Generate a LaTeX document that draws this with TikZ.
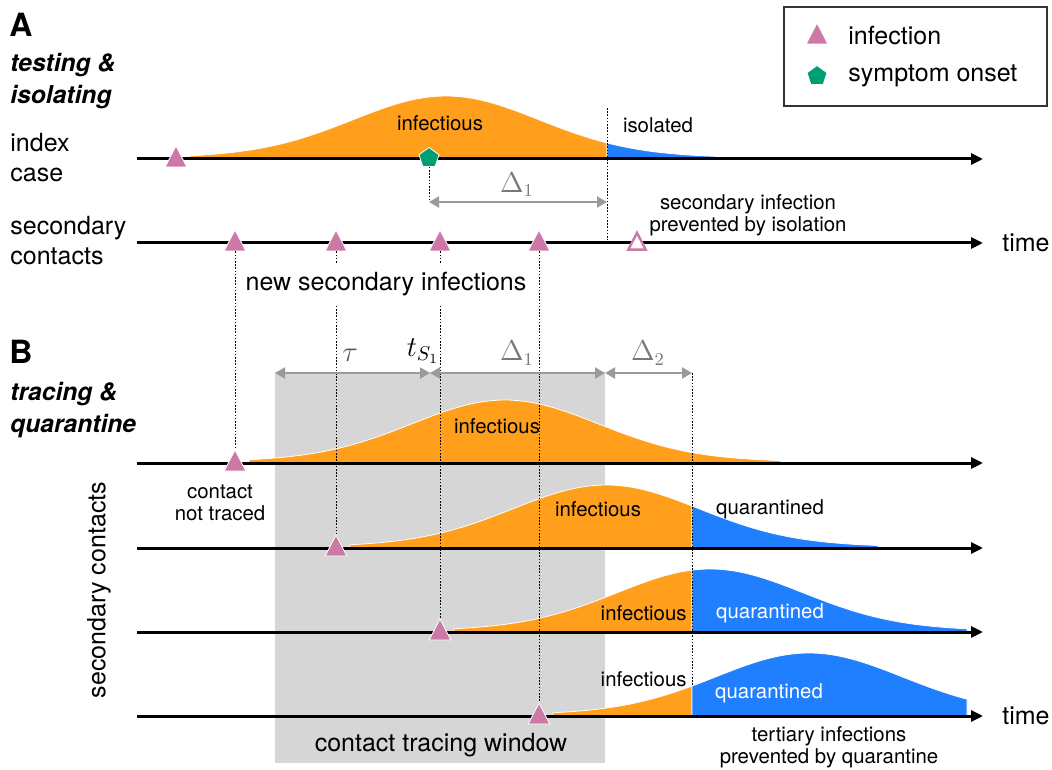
\documentclass[tikz,border=0pt]{standalone}
\usepackage{fontspec}
\setmainfont{TeX Gyre Heros}
\usetikzlibrary{arrows.meta,shapes.geometric}
\definecolor{infcol}{HTML}{CC79A7}
\definecolor{symcol}{HTML}{009E73}
\definecolor{infect}{HTML}{FF9F1C}
\definecolor{quar}{HTML}{1F7FFF}
\definecolor{wingray}{HTML}{D6D6D6}
\definecolor{dimgray}{HTML}{9A9A9A}
\definecolor{mathgray}{HTML}{777777}
\definecolor{legline}{HTML}{333333}
\newcommand{\bigsize}{\fontsize{12.5}{15}\selectfont}
\newcommand{\smallsize}{\fontsize{10.2}{10.8}\selectfont}
\newcommand{\bump}[5]{\filldraw[#5] (#3,#2) -- plot[domain=#3:#4,samples=60] (\x,{#2-prof(\x-#1)}) -- (#4,#2) -- cycle;}
\tikzset{declare function={prof(\u)=63*(0.92*exp(-0.5*((\u-270)/92)^2)+0.08*exp(-0.5*((\u-270)/190)^2));},
inf/.style={regular polygon,regular polygon sides=3,fill=infcol,draw=white,line width=0.4pt,inner sep=0pt,minimum size=12.5pt,yscale=1.12},
infopen/.style={inf,fill=white,draw=infcol,line width=1.2pt,minimum size=10pt},
sym/.style={regular polygon,regular polygon sides=5,fill=symcol,draw=white,line width=0.4pt,inner sep=0pt,minimum size=10.5pt},
axis/.style={line width=1.5pt,-{Triangle[length=6pt,width=5.5pt]}},
dim/.style={line width=1pt,draw=dimgray,{Triangle[length=5pt,width=5.5pt]}-{Triangle[length=5pt,width=5.5pt]}},
guide/.style={line width=0.5pt,dash pattern=on 0.8pt off 0.8pt},
lbl/.style={font=\bigsize,inner sep=0pt,align=left},
sm/.style={font=\smallsize,inner sep=0pt,align=center},
sym math/.style={font=\fontsize{13.5}{15}\selectfont,text=mathgray,inner sep=0pt},
panel/.style={font=\fontsize{16}{18}\selectfont\bfseries,inner sep=0pt},
mode/.style={font=\fontsize{12.3}{16.2}\selectfont\bfseries\itshape,inner sep=0pt,align=left},
infbump/.style={fill=infect,draw=white,line width=0.4pt},
qbump/.style={fill=quar,draw=white,line width=0.4pt},
winbox/.style={fill=wingray,inner sep=0pt}}
\begin{document}
\begin{tikzpicture}[x=0.5pt,y=-0.5pt]
\useasboundingbox (0,0) rectangle (1052,769);
\node[winbox,minimum width=165pt,minimum height=195.5pt] (win) at (440,567.5) {};
\bump{176}{159}{190}{607}{infbump}
\bump{176}{159}{607}{723}{qbump}
\bump{235}{463}{249}{780}{infbump}
\bump{336}{548}{350}{692}{infbump}
\bump{336}{548}{692}{878}{qbump}
\bump{440}{632}{454}{692}{infbump}
\bump{440}{632}{692}{967}{qbump}
\bump{539}{716}{553}{692}{infbump}
\bump{539}{716}{692}{967}{qbump}
\coordinate (ia0) at (137,159); \coordinate (ia1) at (983,159);
\coordinate (sa0) at (137,243); \coordinate (sa1) at (983,243);
\coordinate (r1a) at (137,463); \coordinate (r1b) at (983,463);
\coordinate (r2a) at (137,548); \coordinate (r2b) at (983,548);
\coordinate (r3a) at (137,632); \coordinate (r3b) at (983,632);
\coordinate (r4a) at (137,716); \coordinate (r4b) at (983,716);
\draw[axis] (ia0)--(ia1);
\draw[axis] (sa0)--(sa1);
\draw[axis] (r1a)--(r1b);
\draw[axis] (r2a)--(r2b);
\draw[axis] (r3a)--(r3b);
\draw[axis] (r4a)--(r4b);
\coordinate (isotop) at (607,108); \coordinate (isobot) at (607,240);
\coordinate (d1a) at (429,202); \coordinate (d1b) at (607,202);
\coordinate (tw0) at (275,373); \coordinate (ts) at (430,373);
\coordinate (td1) at (605,373); \coordinate (td2) at (692,373);
\coordinate (q4top) at (692,686);
\node[inf] (idx) at (176,160) {};
\node[sym] (onset) at (429,158) {};
\node[inf] (s1) at (235,244) {};
\node[inf] (s2) at (336,244) {};
\node[inf] (s3) at (440,244) {};
\node[inf] (s4) at (539,244) {};
\node[infopen] (sx) at (637,244) {};
\node[inf] (b1) at (235,464) {};
\node[inf] (b2) at (336,549) {};
\node[inf] (b3) at (440,633) {};
\node[inf] (b4) at (539,717) {};
\draw[guide] (isotop)--(isobot);
\draw[guide] (onset.south)--(d1a);
\draw[guide] (s1.south)--(b1.north);
\draw[guide] (s2.south)--(b2.north);
\draw[guide] (s3.south)--(b3.north);
\draw[guide] (s4.south)--(b4.north);
\draw[guide] (td2)--(q4top);
\draw[dim] (d1a)--(d1b);
\draw[dim] (tw0)--(ts);
\draw[dim] (ts)--(td1);
\draw[dim] (td1)--(td2);
\node[draw=legline,line width=0.75pt,minimum width=131.5pt,minimum height=49.5pt,inner sep=0pt] (legend) at (915.5,56.5) {};
\node[inf] (leginf) at (817,37) {};
\node[sym] (legsym) at (817,76) {};
\node[lbl,anchor=west] (leginft) at (848,36) {infection};
\node[lbl,anchor=west] (legsymt) at (848,76) {symptom onset};
\node[panel,anchor=west] (pa) at (9,25) {A};
\node[mode,anchor=west] (modea) at (10,81) {testing \&\\isolating};
\node[lbl,anchor=west] (idxl) at (10,158) {index\\case};
\node[lbl,anchor=west] (secl) at (10,241) {secondary\\contacts};
\node[sm] (infa) at (440,123) {infectious};
\node[sm] (isol) at (658,125) {isolated};
\node[sym math] (dla) at (517,185) {$\Delta_1$};
\node[sm] (prev) at (748,215) {secondary infection\\prevented by isolation};
\node[lbl,anchor=west] (timea) at (1002,243) {time};
\node[lbl,fill=white,inner xsep=3pt,inner ysep=4pt] (newsec) at (386,284) {new secondary infections};
\node[panel,anchor=west] (pb) at (9,352) {B};
\node[mode,anchor=west] (modeb) at (10,410) {tracing \&\\quarantine};
\node[sym math,text=mathgray!70!black] (taul) at (350,355) {$\tau$};
\node[font=\fontsize{14}{16}\selectfont,inner sep=0pt] (tsl) at (423,351) {$t_{S_1}$};
\node[sym math] (dlb) at (517,353) {$\Delta_1$};
\node[sym math] (dlc) at (648,353) {$\Delta_2$};
\node[lbl,rotate=90] (bsec) at (99,590) {secondary contacts};
\node[sm] (notr) at (220,503) {contact\\not traced};
\node[sm] (inf1) at (497,426) {infectious};
\node[sm] (inf2) at (598,509) {infectious};
\node[sm] (q2) at (770,509) {quarantined};
\node[sm,anchor=east] (inf3) at (687,613) {infectious};
\node[sm,text=white] (q3) at (770,613) {quarantined};
\node[sm,anchor=east] (inf4) at (687,679) {infectious};
\node[sm,text=white] (q4) at (769,693) {quarantined};
\node[lbl,anchor=west] (timeb) at (1002,716) {time};
\node[sm] (tert) at (829,747) {tertiary infections\\prevented by quarantine};
\node[lbl] (winl) at (441,745) {contact tracing window};
\end{tikzpicture}
\end{document}
